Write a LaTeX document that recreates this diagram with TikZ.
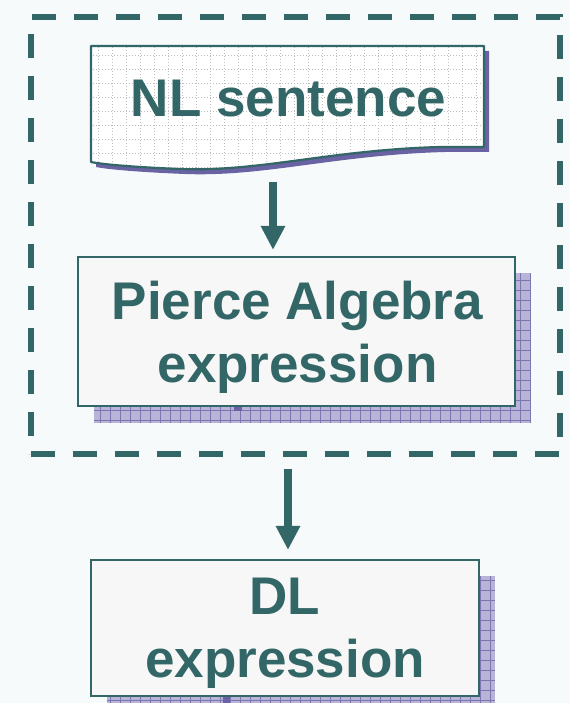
\documentclass[tikz,border=0pt]{standalone}
\usepackage{fontspec}
\setmainfont{Liberation Sans}
\usetikzlibrary{arrows.meta}

\definecolor{inkteal}{HTML}{336666}
\definecolor{pagebg}{HTML}{F6FAFB}
\definecolor{boxfill}{HTML}{F7F7F7}
\definecolor{shadefill}{HTML}{B7B4D7}
\definecolor{shadegrid}{HTML}{7C76B0}
\definecolor{shadedark}{HTML}{6A63A3}
\definecolor{dotgrid}{HTML}{BDBDBD}

\tikzset{
  lbl/.style={font=\fontsize{53}{63}\selectfont\bfseries, text=inkteal, inner sep=0pt, align=center},
  stepbox/.style={draw=inkteal, line width=2.2pt, fill=boxfill, inner sep=0pt},
  flow/.style={draw=inkteal, line width=8pt, -{Triangle[width=23pt,length=24pt]}},
  frame/.style={draw=inkteal, line width=5.5pt, dash pattern=on 24pt off 18pt, inner sep=0pt},
}

% checkered shadow block behind a box
\newcommand{\gridshadow}[4]{%
  \fill[shadefill] (#1,#2) rectangle (#3,#4);
  \begin{scope}
    \clip (#1,#2) rectangle (#3,#4);
    \draw[shadegrid, line width=1pt, step=10pt] (#1,#2) grid (#3,#4);
  \end{scope}}

\begin{document}
\begin{tikzpicture}[x=1pt,y=-1pt]
  % page
  \fill[pagebg] (0,0) rectangle (570,703);
  \useasboundingbox (0,0) rectangle (570,703);

  % dashed frame round the first two steps
  \node[frame, minimum width=529pt, minimum height=437pt] (group) at (295.5,235.5) {};

  % --- NL sentence: document shape with a wavy foot ---
  \def\docpath{(91,46) -- (484,46) -- (484,147) -- (440,147)
     .. controls (330,150) and (260,172) .. (180,169)
     .. controls (130,167) and (100,164) .. (91,162) -- cycle}
  \fill[shadedark] [shift={(5,5)}] \docpath;
  \fill[white] \docpath;
  \begin{scope}
    \clip \docpath;
    \draw[dotgrid, line width=1pt, dash pattern=on 1.2pt off 1.8pt, step=14pt]
      (84,39) grid (490,180);
  \end{scope}
  \draw[inkteal, line width=2.2pt, line join=round] \docpath;
  \node[lbl, anchor=base] (nl) at (288.5,117) {NL sentence};
  \coordinate (nlfoot) at (273,182);

  % --- Pierce Algebra expression ---
  \gridshadow{94}{273}{531}{423}
  \fill[shadedark] (234,406) rectangle (242,411);
  \node[stepbox, minimum width=437pt, minimum height=149pt] (pierce) at (296.5,331.5) {};
  \node[lbl] (piercetext) at (297.5,337.5) {Pierce Algebra\\expression};

  % --- DL expression ---
  \gridshadow{107}{576}{495}{710}
  \fill[shadedark] (223,696) rectangle (230,703);
  \node[stepbox, minimum width=388pt, minimum height=136pt] (dl) at (285,628) {};
  \node[lbl] (dltext) at (285,633) {DL\\expression};

  % connectors
  \draw[flow, shorten >=6pt] (nlfoot) -- (nlfoot |- pierce.north);
  \coordinate (outfoot) at (288,469);
  \draw[flow, shorten >=9pt] (outfoot) -- (outfoot |- dl.north);
\end{tikzpicture}
\end{document}
